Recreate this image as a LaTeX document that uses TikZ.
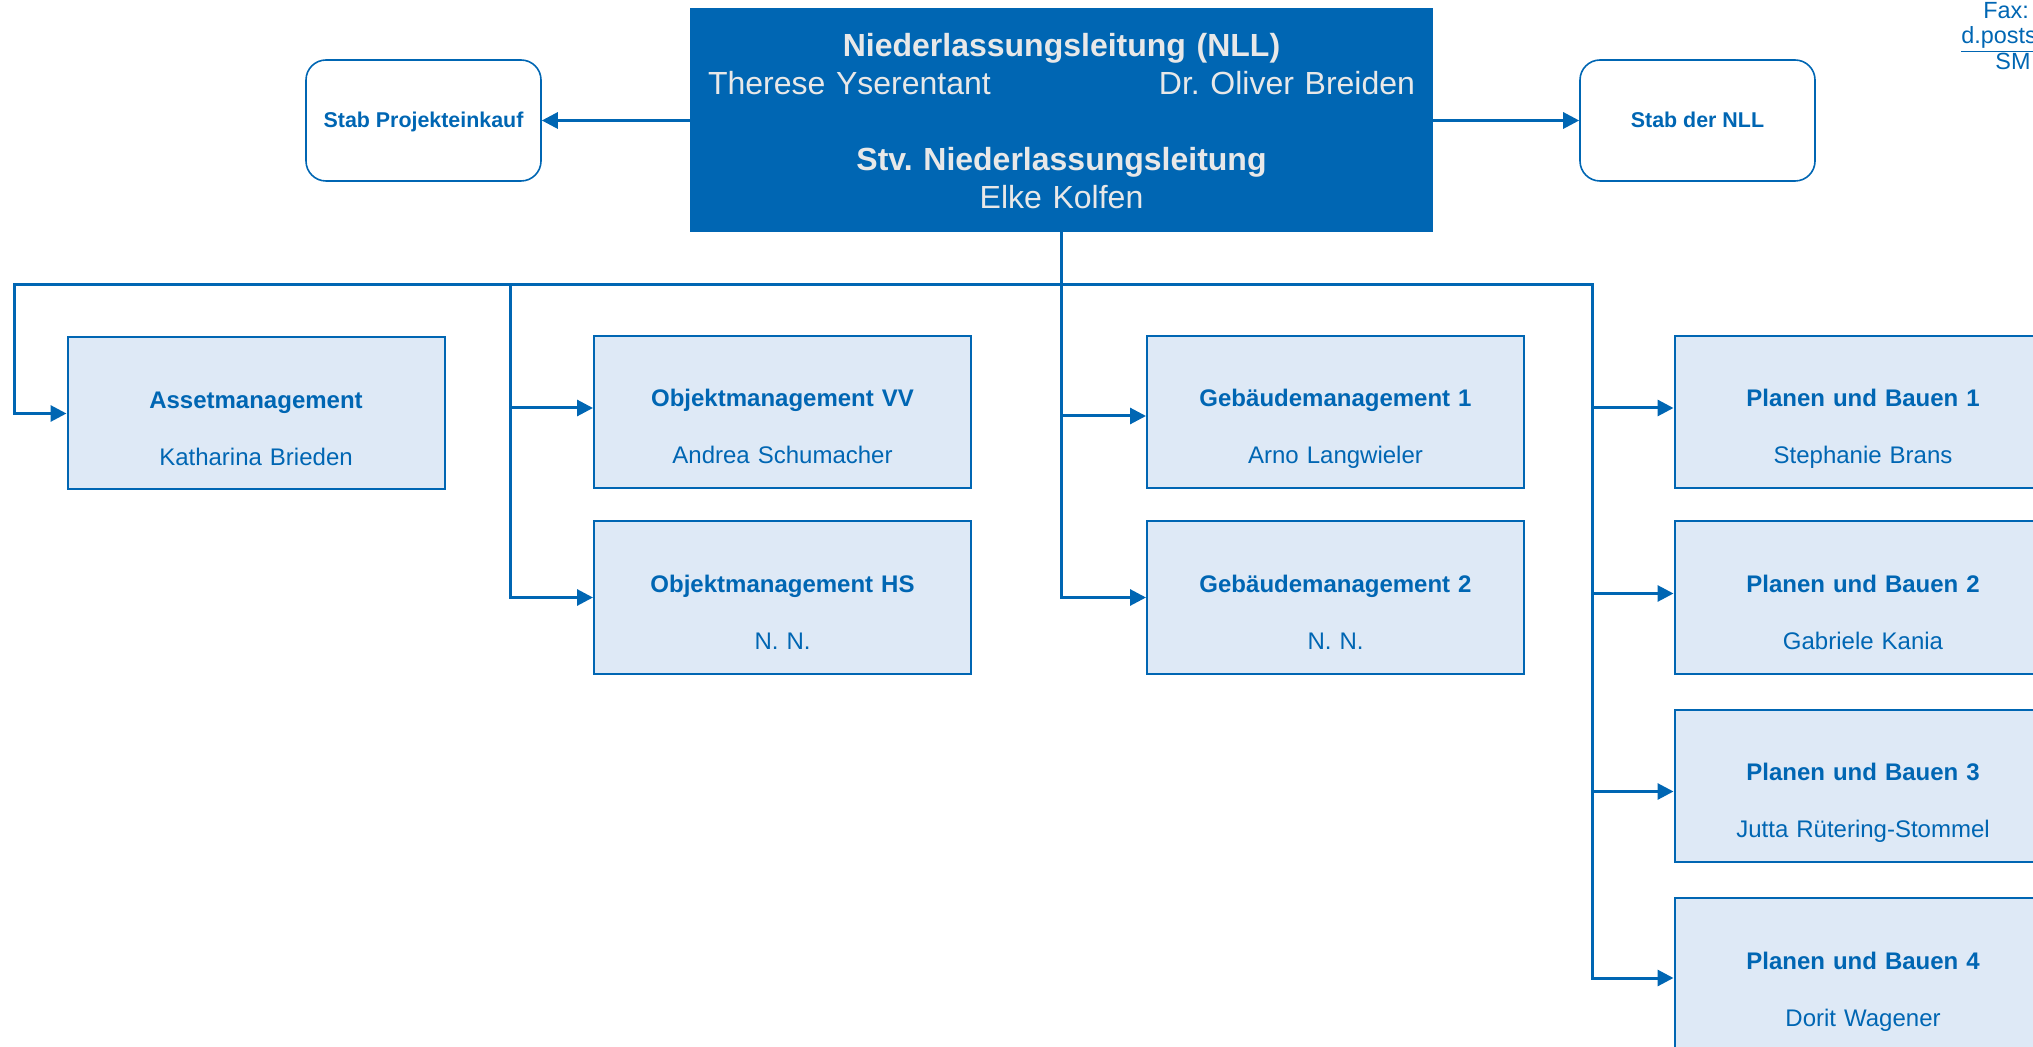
\documentclass[tikz,border=0pt]{standalone}
\usepackage{fontspec}
\setmainfont{Liberation Sans}
\usetikzlibrary{calc,arrows.meta}
\frenchspacing

\definecolor{nlblue}{RGB}{0,102,179}
\definecolor{nllight}{RGB}{222,233,246}
\definecolor{nlgrey}{RGB}{232,232,232}

\tikzset{
    head/.style={fill=nlblue, text=nlgrey, inner sep=0pt, minimum width=371.5pt, minimum height=112pt,
        text width=353.5pt, align=center, font=\fontsize{16}{19}\selectfont, text height=12pt, text depth=76pt},
    staff/.style={draw=nlblue, line width=0.8pt, rounded corners=10pt, text=nlblue, inner sep=0pt,
        minimum width=117.5pt, minimum height=60.5pt, font=\bfseries\fontsize{10.7}{13}\selectfont,
        text height=7.5pt, text depth=0pt},
    unit/.style={draw=nlblue, line width=1pt, fill=nllight, text=nlblue, inner sep=0pt,
        text width=188.5pt, minimum height=76pt, align=center, font=\fontsize{12}{28.5}\selectfont,
        text height=10pt, text depth=15pt},
    contact/.style={text=nlblue, inner sep=0pt, anchor=base west, font=\fontsize{11.7}{14}\selectfont},
    link/.style={draw=nlblue, line width=1.5pt, line cap=rect},
    arr/.style={link, -{Triangle[length=8pt, width=8pt]}}
}

\begin{document}
\begin{tikzpicture}[x=0.5pt, y=-0.5pt]
    \useasboundingbox (0, 0) rectangle (2033, 1047);
    \clip (0, 0) rectangle (2033, 1047);

    \node [head] (NLL) at (1061.5, 120.5) {\textbf{Niederlassungsleitung (NLL)}\\
        Therese Yserentant\hskip 0pt plus 1filll Dr. Oliver Breiden\\[19pt]
        \textbf{Stv. Niederlassungsleitung}\\
        Elke Kolfen};
        \node [staff] (SPE) at ($(NLL) + (-638, 0)$) {Stab Projekteinkauf};
        \node [staff] (SNLL) at ($(NLL) + (636, 0)$) {Stab der NLL};

    \node [unit] (AM) at (256, 413.5) {\textbf{Assetmanagement}\\Katharina Brieden};
    \node [unit] (OM1) at (782.5, 412) {\textbf{Objektmanagement VV}\\Andrea Schumacher};
        \node [unit] (OM2) at ($(OM1) + (0, 185.5)$) {\textbf{Objektmanagement HS}\\N. N.};
    \node [unit] (GM1) at (1335.5, 412) {\textbf{Gebäudemanagement 1}\\Arno Langwieler};
        \node [unit] (GM2) at ($(GM1) + (0, 185.5)$) {\textbf{Gebäudemanagement 2}\\N. N.};
    \node [unit] (PB1) at (1863, 412) {\textbf{Planen und Bauen 1}\\Stephanie Brans};
        \node [unit] (PB2) at ($(PB1) + (0, 185.5)$) {\textbf{Planen und Bauen 2}\\Gabriele Kania};
        \node [unit] (PB3) at ($(PB2) + (0, 188)$) {\textbf{Planen und Bauen 3}\\Jutta Rütering-Stommel};
        \node [unit] (PB4) at ($(PB3) + (0, 188.5)$) {\textbf{Planen und Bauen 4}\\Dorit Wagener};

    \node [contact] (fax) at (1983, 18.5) {Fax:};
    \node [contact] (mail) at (1961, 44) {\underline{d.posts}};
    \node [contact] (sms) at (1995, 70) {SM};

    \coordinate (busL) at (14, 285);
    \coordinate (busR) at (1592, 285);
    \coordinate (busOM) at (510, 285);
    \coordinate (busGM) at (NLL.south |- busR);

    \draw [arr] (NLL.west) -- (SPE.east);
    \draw [arr] (NLL.east) -- (SNLL.west);

    \draw [link] (NLL.south) -- (busGM);
    \draw [link] (busL) -- (busR);
        \draw [arr] (busL) |- (AM.west);
        \draw [arr] (busOM) |- ([yshift=2pt]OM1.west);
        \draw [arr] (busOM) |- (OM2.west);
        \draw [arr] (busGM) |- ([yshift=-2pt]GM1.west);
        \draw [arr] (busGM) |- (GM2.west);
        \draw [arr] (busR) |- ([yshift=2pt]PB1.west);
        \draw [arr] (busR) |- ([yshift=2pt]PB2.west);
        \draw [arr] (busR) |- ([yshift=-3pt]PB3.west);
        \draw [arr] (busR) |- ([yshift=-2pt]PB4.west);
\end{tikzpicture}
\end{document}
